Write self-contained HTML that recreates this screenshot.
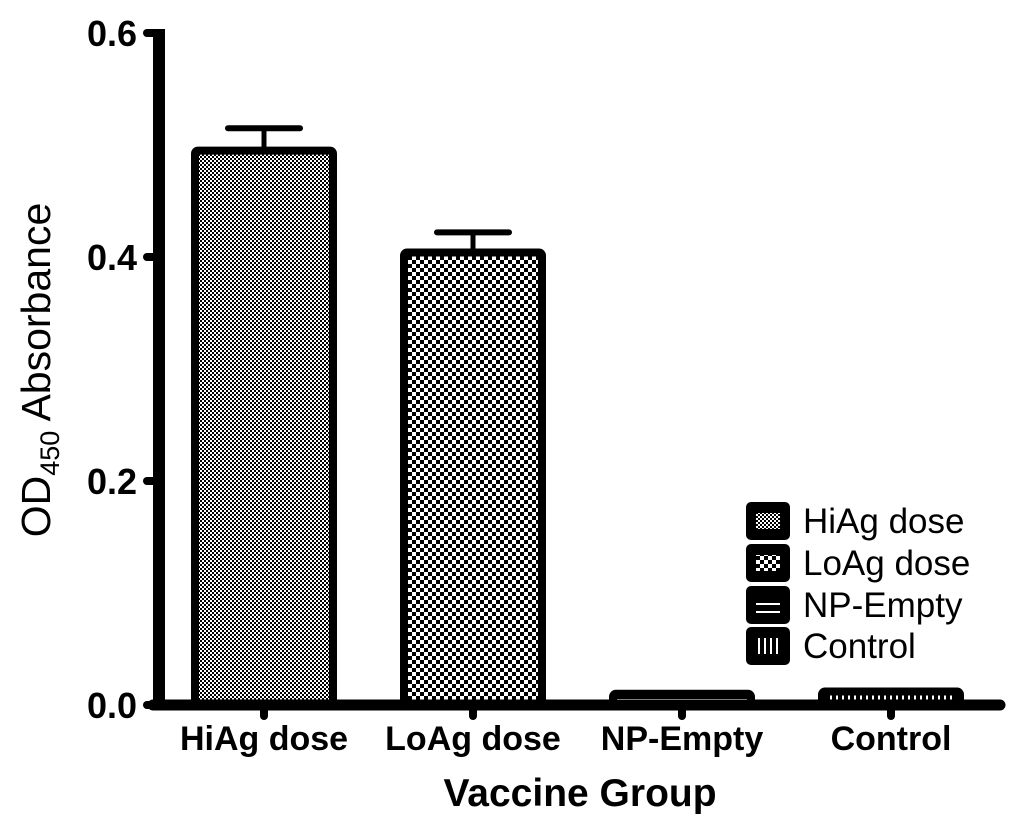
<!DOCTYPE html>
<html><head><meta charset="utf-8"><style>
html,body{margin:0;padding:0;background:#fff;}
svg{display:block;font-family:"Liberation Sans",Arial,sans-serif;}
</style></head><body>
<svg id="chart" width="1024" height="821" viewBox="0 0 1024 821" xmlns="http://www.w3.org/2000/svg">
<defs>
<pattern id="p0" width="4" height="4" patternUnits="userSpaceOnUse"><rect width="4" height="4" fill="#fff"/><rect width="2" height="2" fill="#000"/><rect x="2" y="2" width="2" height="2" fill="#000"/></pattern>
<pattern id="p1" width="8" height="8" patternUnits="userSpaceOnUse"><rect width="8" height="8" fill="#fff"/><rect width="4" height="4" fill="#000"/><rect x="4" y="4" width="4" height="4" fill="#000"/></pattern>
<pattern id="p2" width="8" height="8" patternUnits="userSpaceOnUse"><rect width="8" height="8" fill="#000"/><rect y="3" width="8" height="2" fill="#fff"/></pattern>
<pattern id="p3" width="6" height="8" patternUnits="userSpaceOnUse"><rect width="6" height="8" fill="#000"/><rect x="2" width="2" height="8" fill="#fff"/></pattern>
</defs>
<g id="plot"></g>
</svg>
<script>
const categories = ["HiAg dose","LoAg dose","NP-Empty","Control"];
const values = [0.495, 0.404, 0.010, 0.012];
const errors = [0.020, 0.018, 0, 0];
const yTicks = [0, 0.2, 0.4, 0.6];
const yTickLabels = ["0.0","0.2","0.4","0.6"];

const NS="http://www.w3.org/2000/svg";
const g=document.getElementById('plot');
const y0=705, pxPerUnit=1120;
function yScale(v){return y0 - v*pxPerUnit;}
const barLeft0=195, barStep=209, barW=138;
function xScale(i){return barLeft0 + i*barStep;}
function mk(tag,attrs,parent){const e=document.createElementNS(NS,tag);for(const k in attrs)e.setAttribute(k,attrs[k]);(parent||g).appendChild(e);return e;}

values.forEach((v,i)=>{
  const x=xScale(i), yt=yScale(v);
  if(errors[i]>0){
    const cx=x+barW/2, ye=yScale(v+errors[i]);
    const el=mk('line',{x1:cx,x2:cx,y1:ye,y2:yt,stroke:'#000','stroke-width':5});
    
    
    const cap=mk('line',{x1:cx-36,x2:cx+36,y1:ye,y2:ye,stroke:'#000','stroke-width':6,'stroke-linecap':'round'});
    
    
  }
  const r=mk('rect',{x:x,y:yt,width:barW,height:Math.max(0,y0-yt),fill:'url(#p'+i+')',stroke:'#000','stroke-width':8,rx:3});
  
  
});

const ya=mk('line',{x1:159,x2:159,y1:yScale(0.6)-4,y2:y0,stroke:'#000','stroke-width':12});


yTicks.forEach((t,i)=>{
  const yy=yScale(t);
  const tk=mk('line',{x1:147,x2:159,y1:yy,y2:yy,stroke:'#000','stroke-width':8,'stroke-linecap':'round'});
  
  
  const tx=mk('text',{x:137,y:yy+13,'text-anchor':'end','font-size':36,'font-weight':'bold'});
  tx.textContent=yTickLabels[i];
  
  
});
const xa=mk('line',{x1:153,x2:1000,y1:y0,y2:y0,stroke:'#000','stroke-width':11,'stroke-linecap':'round'});


categories.forEach((c,i)=>{
  const cx=xScale(i)+barW/2;
  const tk=mk('line',{x1:cx,x2:cx,y1:y0,y2:y0+11,stroke:'#000','stroke-width':8,'stroke-linecap':'round'});
  
  
  const tx=mk('text',{x:cx,y:750,'text-anchor':'middle','font-size':34,'font-weight':'bold'});
  tx.textContent=c;
  
  
});
const xt=mk('text',{x:580,y:806,'text-anchor':'middle','font-size':39,'font-weight':'bold'});
xt.textContent='Vaccine Group';


const yt=mk('text',{x:0,y:0,'text-anchor':'middle','font-size':41,transform:'translate(50,370) rotate(-90)'});
yt.innerHTML='OD<tspan font-size="27" dy="9">450</tspan><tspan dy="-9"> Absorbance</tspan>';



const legY=[521,563,605,646];
categories.forEach((c,i)=>{
  const b=mk('rect',{x:746,y:legY[i]-19,width:44,height:38,rx:5,fill:'#000'});
  
  
  mk('rect',{x:756,y:legY[i]-8,width:24,height:16,fill:'url(#p'+i+')'});
  const t=mk('text',{x:803,y:legY[i]+12,'font-size':35});
  t.textContent=c;
  
  
});
</script>
</body></html>
